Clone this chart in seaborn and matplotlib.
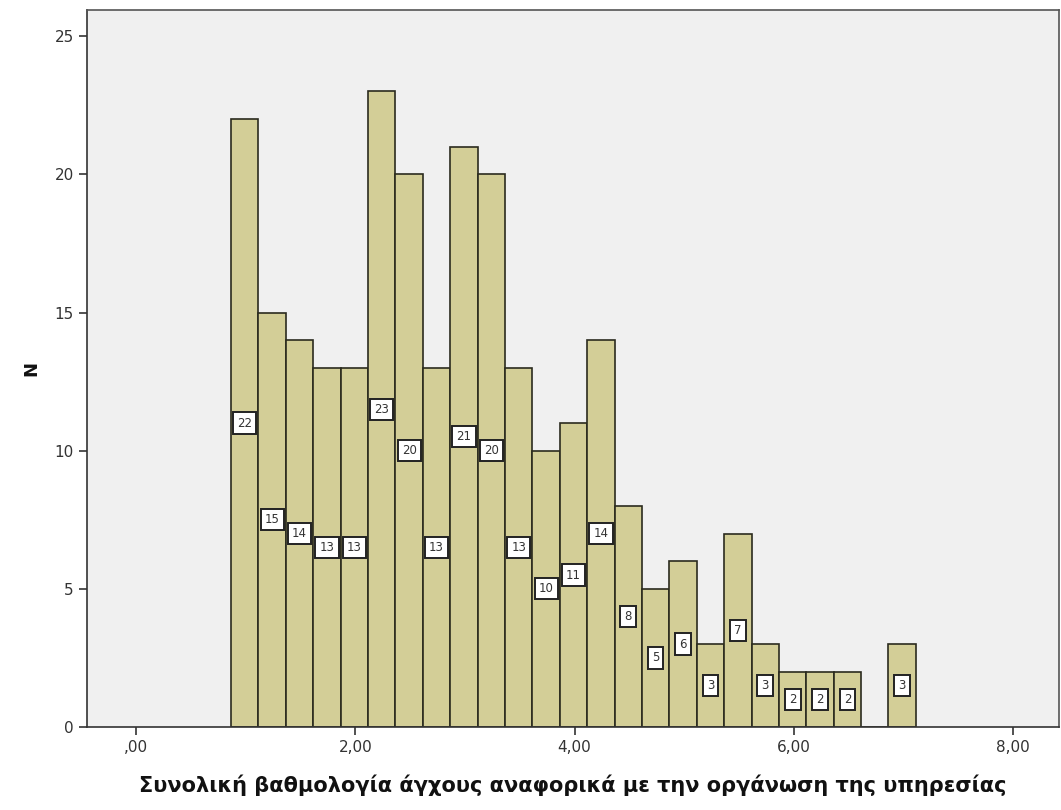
import numpy as np
import pandas as pd
import matplotlib
matplotlib.use("Agg")
import matplotlib.pyplot as plt
import seaborn as sns

# Data
bin_start = 0.865
bin_width = 0.25
counts = [22, 15, 14, 13, 13, 23, 20, 13, 21, 20, 13, 10, 11, 14, 8, 5, 6, 3, 7, 3, 2, 2, 2, 0, 3]
x_ticks = [0, 2, 4, 6, 8]
x_tick_labels = [",00", "2,00", "4,00", "6,00", "8,00"]
y_ticks = [0, 5, 10, 15, 20, 25]
x_label = "Συνολική βαθμολογία άγχους αναφορικά με την οργάνωση της υπηρεσίας"
y_label = "N"

edges = bin_start + bin_width * np.arange(len(counts) + 1)
centers = (edges[:-1] + edges[1:]) / 2
df = pd.DataFrame({"x": centers, "n": counts})

sns.set_style("white")
plt.rcParams['font.family'] = ['DejaVu Sans']

fig = plt.figure(figsize=(10.61, 8.10), dpi=100)
ax = fig.add_axes([0.082, 0.1025, 0.916, 0.8852])
ax.set_facecolor("#f0f0f0")

sns.histplot(data=df, x="x", weights="n", binwidth=bin_width,
             binrange=(float(edges[0]), float(edges[-1])), ax=ax,
             color="#d3ce97", alpha=1.0, edgecolor="#2b2b1e", linewidth=1.2)

for c, n in zip(centers, counts):
    if n > 0:
        ax.text(c, n / 2, str(n), ha="center", va="center", fontsize=8.5, color="#333333",
                bbox=dict(boxstyle="square,pad=0.35", fc="white", ec="#222222", lw=1.4))

ax.set_xlim(-0.45, 8.42)
ax.set_ylim(0, 25.95)
ax.set_xticks(x_ticks)
ax.set_xticklabels(x_tick_labels)
ax.set_yticks(y_ticks)
ax.tick_params(axis="both", which="both", direction="out", length=6, width=1.2,
               color="#333333", labelsize=11, labelcolor="#333333", left=True, bottom=True)
for s in ax.spines.values():
    s.set_color("#555555")
    s.set_linewidth(1.2)
ax.spines["left"].set_color("#333333")
ax.spines["bottom"].set_color("#333333")

ax.set_xlabel(x_label, fontsize=15, fontweight="bold", color="#111111", labelpad=14)
ax.set_ylabel(y_label, fontsize=13, fontweight="bold", color="#111111", labelpad=10)

fig.savefig("out.png", dpi=100, facecolor="white")
